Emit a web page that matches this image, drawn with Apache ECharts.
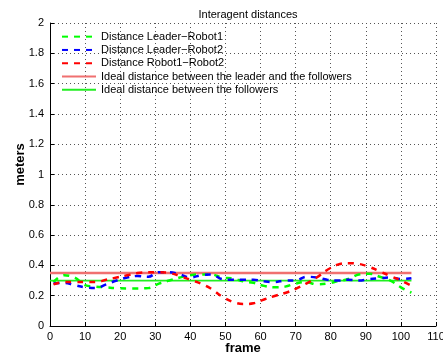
<!DOCTYPE html>
<html><head><meta charset="utf-8">
<script src="https://cdn.jsdelivr.net/npm/echarts@6/dist/echarts.min.js"></script>
<style>html,body{margin:0;padding:0;background:#fff}#c{width:443px;height:356px}</style>
</head><body><div id="c"></div>
<script>
const frames = [1,4,7,10,13,16,19,22,25,28,31,34,37,40,43,46,49,52,55,58,61,64,67,70,73,76,79,82,85,88,91,94,97,100,103];
const leaderRobot1 = [0.29,0.335,0.32,0.27,0.26,0.255,0.25,0.248,0.248,0.25,0.28,0.30,0.32,0.335,0.34,0.34,0.32,0.315,0.295,0.285,0.265,0.255,0.26,0.28,0.29,0.275,0.28,0.295,0.31,0.34,0.345,0.325,0.30,0.255,0.22];
const leaderRobot2 = [0.28,0.285,0.27,0.255,0.25,0.275,0.30,0.32,0.33,0.325,0.355,0.355,0.34,0.32,0.335,0.34,0.31,0.305,0.305,0.305,0.295,0.29,0.30,0.30,0.325,0.32,0.305,0.30,0.305,0.30,0.31,0.315,0.32,0.31,0.315];
const robot1Robot2 = [0.275,0.29,0.29,0.29,0.29,0.305,0.32,0.335,0.35,0.355,0.355,0.35,0.33,0.305,0.28,0.245,0.195,0.16,0.145,0.15,0.175,0.198,0.218,0.245,0.28,0.32,0.37,0.405,0.415,0.41,0.39,0.36,0.33,0.30,0.265];
const idealLeaderFollowers = 0.35;
const idealFollowers = 0.30;
const idealSpan = [0, 103];
const seriesNames = ['Distance Leader\u2212Robot1','Distance Leader\u2212Robot2','Distance Robot1\u2212Robot2','Ideal distance between the leader and the followers','Ideal distance between the followers'];
const xTicks = {min:0,max:110,interval:10};
const yTicks = {min:0,max:2,interval:0.2};

const pair = (xs, ys) => xs.map((x,i)=>[x, ys[i]]);
const font = '"Liberation Sans", Arial, sans-serif';
const chart = echarts.init(document.getElementById('c'));
const dashed = (name, data, color) => ({
  name, type:'line', data, smooth:0.4, symbol:'none', z:3,
  lineStyle:{color, width:2.5, type:[6,6]}, itemStyle:{color}
});
chart.setOption({
  animation:false,
  textStyle:{fontFamily:font},
  title:{text:'Interagent distances', left:243, textAlign:'center', top:4,
    textStyle:{fontSize:11, fontWeight:'normal', color:'#000', fontFamily:font}},
  grid:{left:50, right:7, top:23, bottom:30, containLabel:false, outerBoundsMode:'none'},
  legend:{orient:'vertical', left:56, top:25, itemWidth:34, itemHeight:10, itemGap:0,
    itemStyle:{opacity:0},
    textStyle:{fontSize:11, lineHeight:13.3, color:'#000', fontFamily:font}, data:seriesNames},
  xAxis:{type:'value', min:xTicks.min, max:xTicks.max, interval:xTicks.interval,
    name:'frame', nameLocation:'middle', nameGap:16, nameMoveOverlap:false,
    nameTextStyle:{fontSize:13, fontWeight:'bold', color:'#000', fontFamily:font},
    axisLine:{lineStyle:{color:'#000', width:1}},
    axisTick:{inside:true, length:4, lineStyle:{color:'#000'}},
    axisLabel:{fontSize:11, color:'#000', margin:5},
    splitLine:{lineStyle:{color:'#555', type:[1,3], width:1}}},
  yAxis:{type:'value', min:yTicks.min, max:yTicks.max, interval:yTicks.interval,
    name:'meters', nameLocation:'middle', nameGap:23, nameMoveOverlap:false,
    nameTextStyle:{fontSize:13, fontWeight:'bold', color:'#000', fontFamily:font, padding:[0,0,0,20]},
    axisLine:{show:true, lineStyle:{color:'#000', width:1}},
    axisTick:{show:true, inside:true, length:4, lineStyle:{color:'#000'}},
    axisLabel:{fontSize:11, color:'#000', margin:6},
    splitLine:{lineStyle:{color:'#555', type:[1,3], width:1}}},
  series:[
    dashed(seriesNames[0], pair(frames, leaderRobot1), '#00ff00'),
    dashed(seriesNames[1], pair(frames, leaderRobot2), '#0000ff'),
    dashed(seriesNames[2], pair(frames, robot1Robot2), '#ff0000'),
    {name:seriesNames[3], type:'line', symbol:'none', z:2,
     data:idealSpan.map(f=>[f, idealLeaderFollowers]),
     lineStyle:{color:'#f07070', width:2.5}, itemStyle:{color:'#f07070'}},
    {name:seriesNames[4], type:'line', symbol:'none', z:2,
     data:idealSpan.map(f=>[f, idealFollowers]),
     lineStyle:{color:'#22ee22', width:1.8}, itemStyle:{color:'#22ee22'}}
  ]
});
</script></body></html>
